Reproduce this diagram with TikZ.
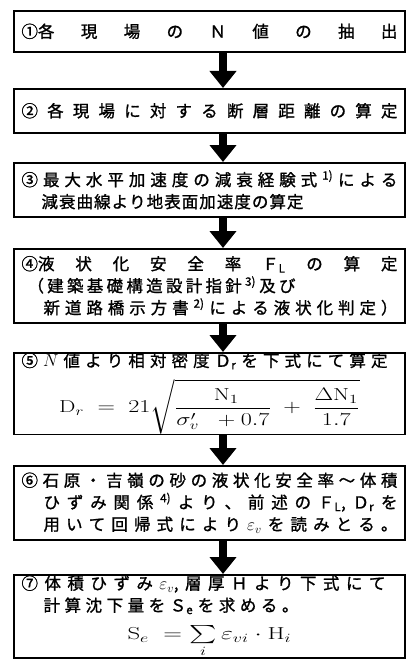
\documentclass[tikz,border=0pt]{standalone}
\usepackage{amsmath,graphicx}
\usepackage{fontspec}
\newfontfamily\jpfont{Noto Sans CJK JP}[FakeBold=1.2]
\usetikzlibrary{arrows.meta}
\makeatletter
\newcommand\spreadline[2]{\makebox[#1][s]{\spread@go#2\spread@stop}}
\def\spread@stop{\spread@stop@}
\def\spread@go#1{#1\spread@next}
\def\spread@next#1{\ifx\spread@stop#1\else\hfil#1\expandafter\spread@next\fi}
\makeatother
% indented line: indent, then spread width
\newcommand\indentline[3]{\makebox[376pt][l]{\kern#1\spreadline{#2}{#3}}}

\begin{document}
\begin{tikzpicture}[x=1pt,y=1pt,
  stepbox/.style={draw,line width=1.6pt,anchor=north,minimum width=391pt,text width=376pt,
    inner xsep=7.5pt,inner ysep=2pt,align=left,font=\jpfont\fontsize{16.5}{22}\selectfont},
  flowarrow/.style={line width=8pt,-{Triangle[width=26pt,length=17pt]}}]
\useasboundingbox (0,0) rectangle (407,-661);
% steps
\node[stepbox,minimum height=41pt] (s1) at (209.5,-10) {\spreadline{376pt}{{①各}現場のＮ値の抽出}};
\node[stepbox,minimum height=44pt] (s2) at (209.5,-88) {\spreadline{376pt}{②各現場に対する断層距離の算定}};
\node[stepbox,minimum height=54pt] (s3) at (209.5,-162) {\spreadline{376pt}{③最大水平加速度の減衰経験式{\textsuperscript{1)}}による}\\
  \indentline{20pt}{262pt}{減衰曲線より地表面加速度の算定}};
\node[stepbox,minimum height=74pt] (s4) at (209.5,-248) {\spreadline{376pt}{{④液}状化安全率{Ｆ\textsubscript{L}}の算定}\\
  \indentline{6pt}{268pt}{（建築基礎構造設計指針{\textsuperscript{3)}}及び}\\
  \indentline{22pt}{354pt}{新道路橋示方書{\textsuperscript{2)}}による液状化判定）}};
\node[stepbox,minimum height=78pt,inner ysep=0pt] (s5) at (209.5,-352) {\spreadline{366pt}{⑤{$N$}値より相対密度{Ｄ\textsubscript{r}}を下式にて算定}\\[9pt]
  \makebox[376pt]{\scalebox{1.4}[1.05]{$\displaystyle\mathrm{D}_r\;=\;21\sqrt{\frac{\;\mathrm{N}_1}{\sigma'_v\;\;+0.7}\;+\;\frac{\Delta\mathrm{N}_1}{1.7}}$}}};
\node[stepbox,minimum height=74pt] (s6) at (209.5,-465) {\spreadline{376pt}{⑥石原・吉嶺の砂の液状化安全率～体積}\\
  \indentline{22pt}{354pt}{ひずみ関係{\textsuperscript{4)}}より、前述の{Ｆ\textsubscript{L},}{Ｄ\textsubscript{r}}を}\\
  \indentline{22pt}{354pt}{用いて回帰式により{$\varepsilon_v$}を読みとる。}};
\node[stepbox,minimum height=83pt,inner ysep=0pt] (s7) at (209.5,-574) {\spreadline{364pt}{⑦体積ひずみ{$\varepsilon_v$,}層厚Ｈより下式にて}\\
  \indentline{22pt}{255pt}{計算沈下量を{Ｓ\textsubscript{e}}を求める。}\\[6pt]
  \makebox[376pt]{\scalebox{1.5}[1.05]{$\mathrm{S}_e\;=\sum\limits_i\varepsilon_{vi}\cdot\mathrm{H}_i$}}};
% arrows between steps
\foreach \a/\b in {s1/s2,s2/s3,s3/s4,s4/s5,s5/s6,s6/s7}
  \draw[flowarrow] ([xshift=13.5]\a.south) -- ([xshift=13.5]\b.north);
\end{tikzpicture}
\end{document}
